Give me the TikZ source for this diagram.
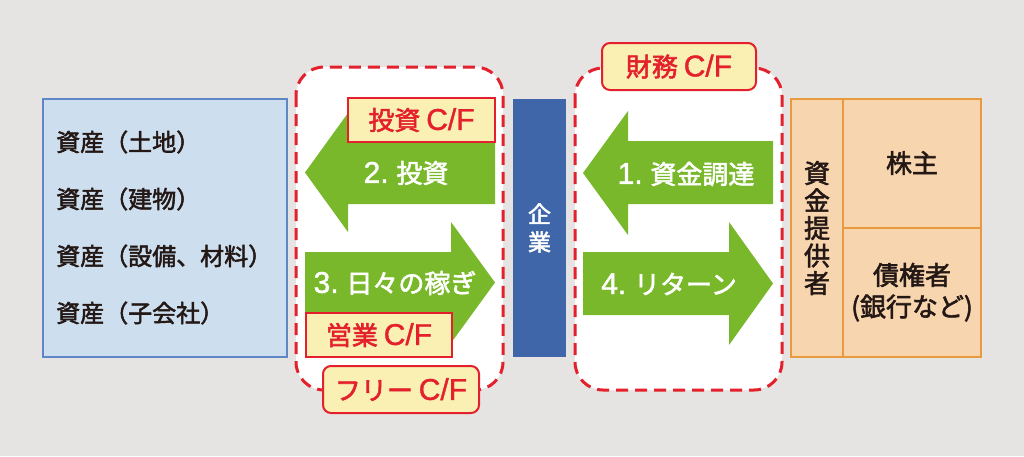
\documentclass[tikz,border=0pt]{standalone}
\usepackage{fontspec}
\setmainfont{Noto Sans CJK JP}[FakeBold=2.2]
\newfontfamily\latn{Liberation Sans}[FakeBold=1.3]
\definecolor{bg}{HTML}{E6E4E2}
\definecolor{cfred}{HTML}{E3202C}
\definecolor{cfyellow}{HTML}{FAF0B4}
\definecolor{agreen}{HTML}{78B82A}
\definecolor{corpblue}{HTML}{3E66A9}
\definecolor{assetfill}{HTML}{CDDFEE}
\definecolor{assetline}{HTML}{5F87C6}
\definecolor{provfill}{HTML}{F7D5AE}
\definecolor{provline}{HTML}{EA9A3E}
\definecolor{ink}{HTML}{231815}
\newcommand{\lt}[1]{{\latn\fontsize{30}{30}\selectfont #1}}
\tikzset{
  dashbox/.style={draw=cfred, fill=white, line width=3pt, dash pattern=on 12pt off 7pt, rounded corners=28pt},
  sqlabel/.style={draw=cfred, fill=cfyellow, line width=1.5pt, text=cfred, inner sep=0pt, font=\fontsize{26}{28}\selectfont},
  rdlabel/.style={sqlabel, rounded corners=8pt, line width=2pt},
  arrowfill/.style={fill=agreen},
  arrowtext/.style={text=white, inner sep=0pt, font=\fontsize{26}{28}\selectfont},
  assettext/.style={text=ink, anchor=west, inner sep=0pt, font=\fontsize{24}{26}\selectfont},
  provtext/.style={text=ink, inner sep=0pt, align=center, font=\fontsize{26}{27.5}\selectfont},
}
\begin{document}
\begin{tikzpicture}[x=1pt,y=-1pt]
\useasboundingbox (0,0) rectangle (1024,456);
\fill[bg] (0,0) rectangle (1024,456);
% left assets box
\draw[draw=assetline, fill=assetfill, line width=1.5pt] (43,99) rectangle (287,357);
\node[assettext] (a1) at (56,142) {資産（土地）};
\node[assettext] (a2) at (56,199) {資産（建物）};
\node[assettext] (a3) at (56,256) {資産（設備、材料）};
\node[assettext] (a4) at (56,313) {資産（子会社）};
% dashed groups
\draw[dashbox] (296,67) rectangle (503,390);
\draw[dashbox] (575,68) rectangle (782,390);
% arrows
\fill[arrowfill] (495,141) -- (348,141) -- (348,113) -- (305,172.5) -- (348,232) -- (348,204) -- (495,204) -- cycle;
\fill[arrowfill] (305,252) -- (451,252) -- (451,222) -- (495,282.5) -- (451,343) -- (451,313) -- (305,313) -- cycle;
\fill[arrowfill] (773,141) -- (628,141) -- (628,111) -- (583,173) -- (628,235) -- (628,204) -- (773,204) -- cycle;
\fill[arrowfill] (583,252) -- (729,252) -- (729,222) -- (773,283.5) -- (729,345) -- (729,315) -- (583,315) -- cycle;
\node[arrowtext] (t2) at (406,173) {\lt{2.} 投資};
\node[arrowtext] (t3) at (395,283) {\lt{3.} 日々の稼ぎ};
\node[arrowtext] (t1) at (686,174) {\lt{1.} 資金調達};
\node[arrowtext] (t4) at (669,284) {\lt{4.} リターン};
% labels
\node[sqlabel, minimum width=147pt, minimum height=44pt] (inv) at (421.5,120) {投資 \lt{C/F}};
\node[sqlabel, minimum width=146pt, minimum height=44pt] (ope) at (379,335) {営業 \lt{C/F}};
\node[rdlabel, minimum width=156pt, minimum height=47pt] (free) at (401,389.5) {フリー \lt{C/F}};
\node[rdlabel, minimum width=154pt, minimum height=47pt] (fin) at (679,66.5) {財務 \lt{C/F}};
% company bar
\fill[corpblue] (513,99) rectangle (566,357);
\node[text=white, inner sep=0pt, align=center, font=\fontsize{23}{28}\selectfont] (corp) at (539.5,228) {企\\業};
% providers box
\draw[draw=provline, fill=provfill, line width=1.5pt] (791,99) rectangle (981,357);
\draw[draw=provline, line width=1.5pt] (843,99) -- (843,357);
\draw[draw=provline, line width=1.5pt] (843,228) -- (981,228);
\node[provtext] (prov) at (817,228) {資\\金\\提\\供\\者};
\node[provtext] (sh) at (912,163) {株主};
\node[provtext] (cr) at (912,275) {債権者};
\node[provtext] (bk) at (912,308) {(銀行など)};
\end{tikzpicture}
\end{document}
